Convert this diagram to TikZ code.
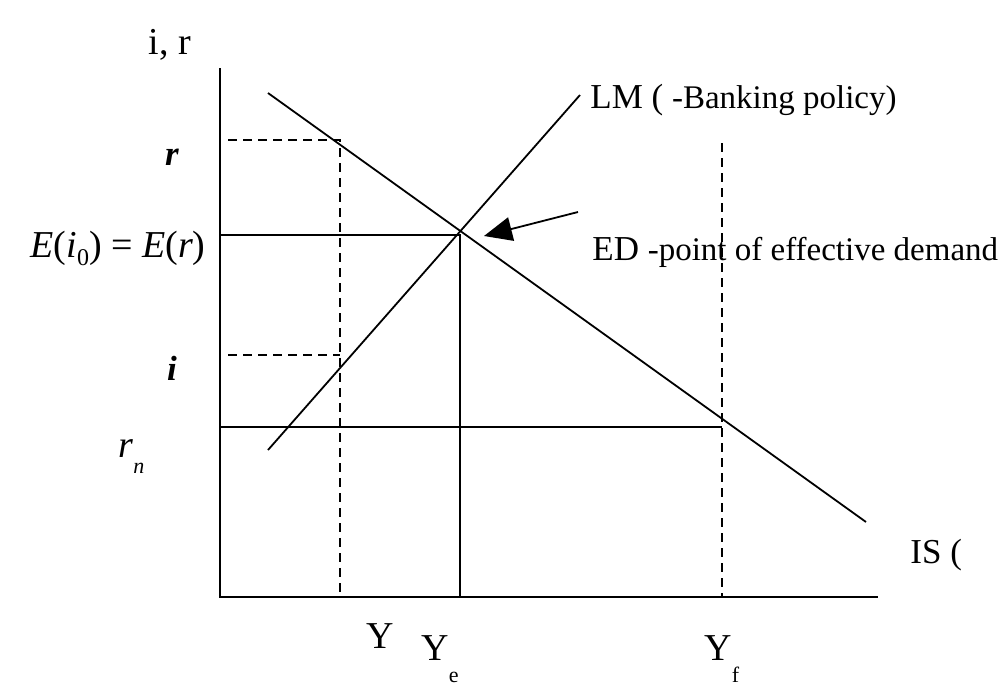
\documentclass[tikz,border=0pt]{standalone}
\usepackage{fontspec}
\setmainfont{Liberation Serif}
\usetikzlibrary{arrows.meta,calc}
\tikzset{
  ax line/.style={draw=black, line width=1.1pt},
  curve/.style={draw=black, line width=0.9pt},
  guide/.style={draw=black, line width=0.9pt},
  dash guide/.style={draw=black, line width=1pt, dash pattern=on 4.5pt off 3pt},
  ed arrow/.style={-{Triangle[length=14pt,width=12pt]}, line width=0.9pt},
  big lbl/.style={font=\fontsize{17.5}{20}\selectfont, inner sep=0pt},
  tick lbl/.style={font=\fontsize{19}{22}\selectfont, inner sep=0pt}
}
\newcommand{\smalltxt}{\fontsize{16.5}{19}\selectfont}
\newcommand{\subtxt}{\fontsize{11}{13}\selectfont}
\begin{document}
\begin{tikzpicture}[x=0.5pt, y=-0.5pt]
  \useasboundingbox (0,0) rectangle (1003,692);
  % axes
  \coordinate (o) at (220,597);
  \coordinate (ytop) at (220,68);
  \coordinate (xend) at (878,597);
  \draw[ax line] (ytop) -- (o) -- (xend);
  % curves
  \coordinate (is a) at (268,93);
  \coordinate (is b) at (866,522);
  \coordinate (lm a) at (268,450);
  \coordinate (lm b) at (580,95);
  \draw[curve] (is a) -- (is b);
  \draw[curve] (lm a) -- (lm b);
  % point of effective demand
  \coordinate (ed) at (460,235);
  \draw[guide] (ed -| o) -- (ed) -- (ed |- o);
  % full employment
  \coordinate (yf) at (722,427);
  \draw[guide] (yf -| o) -- (yf);
  \draw[dash guide] (722,143) -- (722,597);
  % r and i levels
  \coordinate (ry) at (340,140);
  \draw[dash guide] (228,140) -- (ry) -- (ry |- o);
  \draw[dash guide] (228,355) -- (340,355);
  % labels
  \node[tick lbl] (axlbl) at (170,45) {i, r};
  \node[big lbl] (rlbl) at (172,157) {\textbf{\textit{r}}};
  \node[big lbl] (ilbl) at (172,368) {\textbf{\textit{i}}};
  \node[tick lbl, anchor=east] (elbl) at (206,248) {\textit{E}(\textit{i}\raisebox{-4pt}{\fontsize{12}{14}\selectfont 0}) = \textit{E}(\textit{r})};
  \node[tick lbl, anchor=base west] (rnlbl) at (118,457) {\textit{r}\raisebox{-8pt}{\subtxt\textit{n}}};
  \node[big lbl, anchor=base west] (lmlbl) at (590,108) {LM ( \smalltxt -Banking policy)};
  \node[big lbl, anchor=base west] (edlbl) at (592,260) {ED \smalltxt -point of effective demand};
  \node[big lbl, anchor=base west] (islbl) at (910,563) {IS (};
  \node[tick lbl, anchor=base] (ylbl) at (380,648) {Y};
  \node[tick lbl, anchor=base west] (yelbl) at (421,660) {Y\raisebox{-11pt}{\subtxt e}};
  \node[tick lbl, anchor=base west] (yflbl) at (704,660) {Y\raisebox{-11pt}{\subtxt f}};
  % arrow to ED
  \coordinate (arr s) at (578,212);
  \coordinate (arr e) at (484,236);
  \draw[ed arrow] (arr s) -- (arr e);
\end{tikzpicture}
\end{document}
